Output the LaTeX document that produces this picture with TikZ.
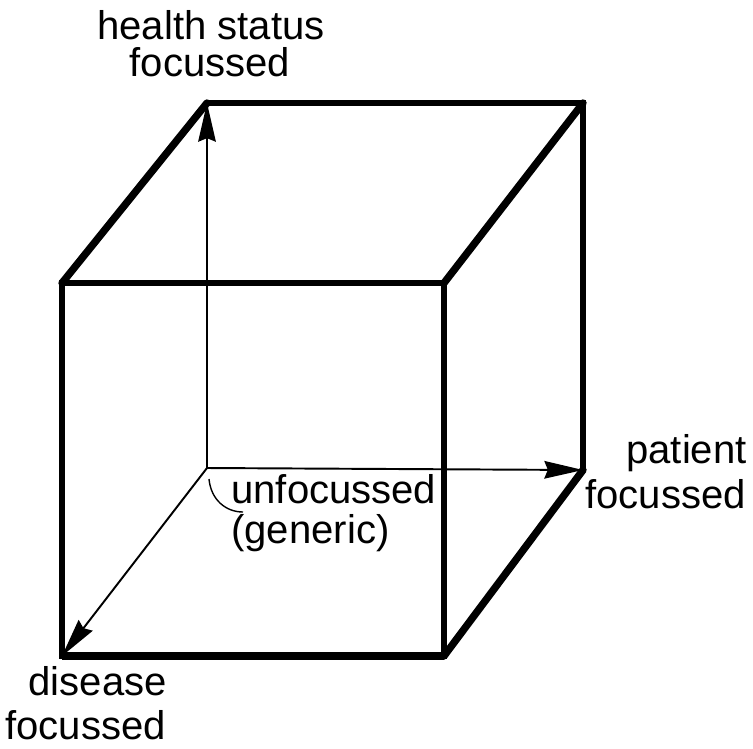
\documentclass[tikz,border=0pt]{standalone}
\usepackage{fontspec}
\setmainfont{Liberation Sans}
\usetikzlibrary{arrows.meta}

\tikzset{
	edge/.style={line width=3.1pt, line cap=round, line join=miter},
	depth/.style={line width=4.2pt, line cap=round},
	axis/.style={line width=1.1pt, -{Stealth[length=22pt, width=10pt, inset=2pt]}},
	lbl/.style={font=\fontsize{22.8}{26}\selectfont, inner sep=0pt}
}

\begin{document}
\begin{tikzpicture}[x=0.02cm, y=-0.02cm]
		\useasboundingbox (0,0) rectangle (753,748);

		% corners of the cube
		\coordinate (o) at (207,468);
		\coordinate (ftl) at (62,283);
		\coordinate (ftr) at (444,283);
		\coordinate (fbl) at (62,656);
		\coordinate (fbr) at (444,656);
		\coordinate (btl) at (207,103);
		\coordinate (btr) at (583,103);
		\coordinate (bbr) at (583,470);

		% axes
		\draw[axis] (o) -- (btl);
		\draw[axis] (o) -- (bbr);
		\draw[axis] (o) -- (fbl);

		% cube
		\draw[depth] (ftl) -- (btl);
		\draw[depth] (ftr) -- (btr);
		\draw[depth] (fbr) -- (bbr);
		\draw[edge] (btl) -- (btr) -- (bbr);
		\draw[edge] (ftl) rectangle (fbr);
		\draw[line width=4.4pt] (fbl) -- (fbr);

		% labels
		\node[lbl, anchor=base] (health) at (211,39) {health status};
		\node[lbl, anchor=base] (healthb) at (210,76) {focussed};
		\node[lbl, anchor=base east] (patient) at (747,463) {patient};
		\node[lbl, anchor=base east] (patientb) at (746,508) {focussed};
		\node[lbl, anchor=base east] (disease) at (167,695) {disease};
		\node[lbl, anchor=base east] (diseaseb) at (166,739) {focussed};
		\node[lbl, anchor=base west] (unfoc) at (231,503) {unfocussed};
		\node[lbl, anchor=base west] (generic) at (231,543) {(generic)};

		\draw[line width=0.8pt] (209,479) .. controls (211,500) and (226,512) .. (243,512);
	\end{tikzpicture}
\end{document}
